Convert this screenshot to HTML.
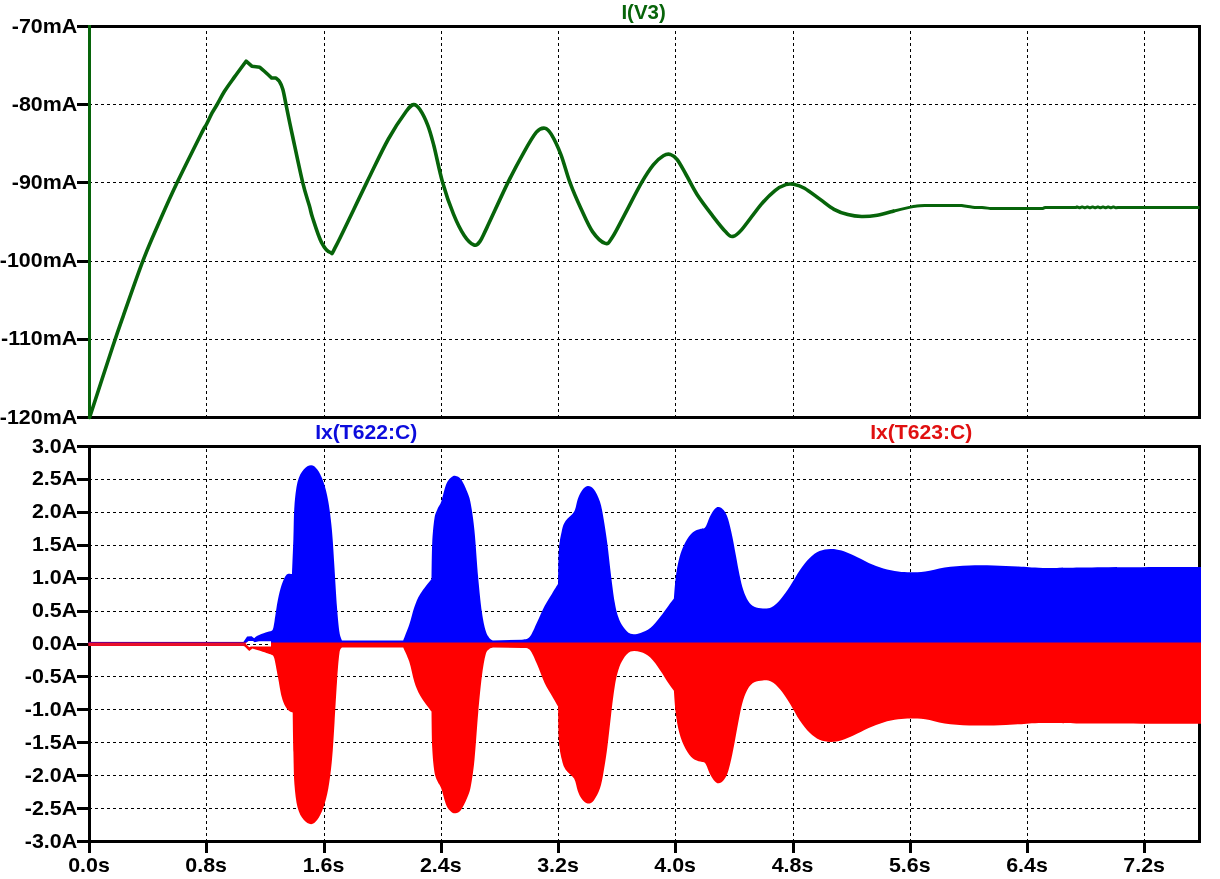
<!DOCTYPE html>
<html lang="en"><head><meta charset="utf-8"><title>LTspice waveform</title>
<style>html,body{margin:0;padding:0;background:#fff}body{width:1220px;height:879px;overflow:hidden}svg{display:block}
text{font-family:"Liberation Sans",Arial,sans-serif;font-weight:bold;font-size:21px}
.g{stroke:#000;stroke-width:1;stroke-dasharray:3 3;shape-rendering:crispEdges;fill:none}
.f{stroke:#000;stroke-width:3;shape-rendering:crispEdges;fill:none}
.yl{text-anchor:end}.xl{text-anchor:middle}
</style></head><body>
<svg width="1220" height="879" viewBox="0 0 1220 879">
<rect width="1220" height="879" fill="#fff"/>
<path class="g" d="M206.5,28.0V416.0" stroke-dashoffset="3"/>
<path class="g" d="M324.5,28.0V416.0" stroke-dashoffset="3"/>
<path class="g" d="M441.5,28.0V416.0" stroke-dashoffset="3"/>
<path class="g" d="M558.5,28.0V416.0" stroke-dashoffset="3"/>
<path class="g" d="M675.5,28.0V416.0" stroke-dashoffset="3"/>
<path class="g" d="M793.5,28.0V416.0" stroke-dashoffset="3"/>
<path class="g" d="M910.5,28.0V416.0" stroke-dashoffset="3"/>
<path class="g" d="M1027.5,28.0V416.0" stroke-dashoffset="3"/>
<path class="g" d="M1144.5,28.0V416.0" stroke-dashoffset="3"/>
<path class="g" d="M91.0,104.5H1198.0" stroke-dashoffset="2"/>
<path class="g" d="M91.0,182.5H1198.0" stroke-dashoffset="2"/>
<path class="g" d="M91.0,261.5H1198.0" stroke-dashoffset="2"/>
<path class="g" d="M91.0,339.5H1198.0" stroke-dashoffset="2"/>
<path class="f" d="M77,26.5H1199.5V417.5H77M89.5,25.0V419.0"/>
<path class="f" d="M77,104.7H89.5"/>
<path class="f" d="M77,182.9H89.5"/>
<path class="f" d="M77,261.1H89.5"/>
<path class="f" d="M77,339.3H89.5"/>
<path class="g" d="M206.5,448.0V840.0" stroke-dashoffset="5"/>
<path class="g" d="M324.5,448.0V840.0" stroke-dashoffset="5"/>
<path class="g" d="M441.5,448.0V840.0" stroke-dashoffset="5"/>
<path class="g" d="M558.5,448.0V840.0" stroke-dashoffset="5"/>
<path class="g" d="M675.5,448.0V840.0" stroke-dashoffset="5"/>
<path class="g" d="M793.5,448.0V840.0" stroke-dashoffset="5"/>
<path class="g" d="M910.5,448.0V840.0" stroke-dashoffset="5"/>
<path class="g" d="M1027.5,448.0V840.0" stroke-dashoffset="5"/>
<path class="g" d="M1144.5,448.0V840.0" stroke-dashoffset="5"/>
<path class="g" d="M91.0,479.5H1198.0" stroke-dashoffset="2"/>
<path class="g" d="M91.0,512.5H1198.0" stroke-dashoffset="2"/>
<path class="g" d="M91.0,545.5H1198.0" stroke-dashoffset="2"/>
<path class="g" d="M91.0,578.5H1198.0" stroke-dashoffset="2"/>
<path class="g" d="M91.0,611.5H1198.0" stroke-dashoffset="2"/>
<path class="g" d="M91.0,644.5H1198.0" stroke-dashoffset="2"/>
<path class="g" d="M91.0,676.5H1198.0" stroke-dashoffset="2"/>
<path class="g" d="M91.0,709.5H1198.0" stroke-dashoffset="2"/>
<path class="g" d="M91.0,742.5H1198.0" stroke-dashoffset="2"/>
<path class="g" d="M91.0,775.5H1198.0" stroke-dashoffset="2"/>
<path class="g" d="M91.0,808.5H1198.0" stroke-dashoffset="2"/>
<path class="f" d="M77,446.5H1199.5V841.5H77M89.5,445.0V843.0"/>
<path class="f" d="M77,479.4H89.5"/>
<path class="f" d="M77,512.3H89.5"/>
<path class="f" d="M77,545.2H89.5"/>
<path class="f" d="M77,578.2H89.5"/>
<path class="f" d="M77,611.1H89.5"/>
<path class="f" d="M77,644.0H89.5"/>
<path class="f" d="M77,676.9H89.5"/>
<path class="f" d="M77,709.8H89.5"/>
<path class="f" d="M77,742.8H89.5"/>
<path class="f" d="M77,775.7H89.5"/>
<path class="f" d="M77,808.6H89.5"/>
<path class="f" d="M89.5,841.5V853"/>
<path class="f" d="M206.8,841.5V853"/>
<path class="f" d="M324.0,841.5V853"/>
<path class="f" d="M441.2,841.5V853"/>
<path class="f" d="M558.5,841.5V853"/>
<path class="f" d="M675.8,841.5V853"/>
<path class="f" d="M793.0,841.5V853"/>
<path class="f" d="M910.2,841.5V853"/>
<path class="f" d="M1027.5,841.5V853"/>
<path class="f" d="M1144.8,841.5V853"/>
<path d="M89.5,25V419" fill="none" stroke="#07640a" stroke-width="3" shape-rendering="crispEdges"/>
<path d="M89.6,417.5C93.4,405.8 106.9,364.2 112.5,347.3C118.1,330.4 118.2,330.2 123.3,315.8C128.4,301.4 137.1,276.1 143.0,260.7C148.9,245.3 153.0,236.4 158.7,223.3C164.4,210.2 170.3,196.8 177.4,182.0C184.5,167.2 196.2,143.8 201.0,134.2C205.8,124.6 204.5,128.1 206.4,124.5C208.3,120.9 210.4,116.0 212.2,112.7C214.0,109.4 215.0,108.1 217.1,104.5C219.2,100.9 221.7,95.8 224.5,91.3C227.3,86.8 230.6,82.4 234.2,77.4C237.8,72.4 244.1,63.9 246.1,61.2L251.8,66.2L259.8,67.3C260.5,67.9 262.1,69.2 264.1,71.0C266.1,72.8 270.4,76.8 271.6,78.0L275.9,78.0C276.5,78.6 278.5,79.8 279.6,81.7C280.8,83.6 281.7,85.4 282.8,89.2C283.9,93.0 284.5,97.2 286.0,104.5C287.5,111.8 289.1,120.0 291.9,133.0C294.7,145.9 299.7,170.1 302.6,182.2C305.5,194.3 307.6,199.7 309.3,205.6C311.0,211.5 310.6,211.7 312.6,217.8C314.6,223.9 318.5,236.6 321.5,242.4C324.5,248.2 327.9,252.0 330.4,252.5C332.9,253.0 330.2,257.1 336.3,245.4C342.4,233.7 358.1,200.1 366.8,182.4C375.5,164.7 381.8,150.8 388.4,139.0C394.9,127.2 401.9,117.2 406.1,111.5C410.3,105.8 411.3,104.9 413.6,104.6C415.9,104.3 417.5,106.0 419.9,109.5C422.3,113.0 425.5,119.4 427.8,125.3C430.1,131.2 431.2,135.5 433.7,145.0C436.2,154.5 439.3,170.9 442.6,182.4C445.9,193.9 449.8,205.1 453.4,213.9C457.0,222.8 460.8,230.3 464.2,235.5C467.6,240.7 471.4,244.0 474.0,245.0C476.6,246.0 477.9,244.3 480.0,241.4C482.1,238.5 482.2,237.4 486.9,227.6C491.6,217.8 501.9,194.9 508.0,182.4C514.1,169.9 518.9,161.2 523.6,152.8C528.3,144.4 532.9,136.3 536.4,132.2C539.9,128.1 542.4,127.9 544.9,128.2C547.4,128.5 548.5,129.7 551.2,134.1C553.9,138.5 557.9,146.8 561.0,154.8C564.1,162.9 566.6,173.5 569.9,182.4C573.2,191.3 576.9,199.8 580.7,208.0C584.5,216.2 588.4,225.7 592.5,231.6C596.6,237.5 602.0,242.4 605.3,243.4C608.6,244.4 609.1,242.1 612.2,237.5C615.3,232.9 619.1,225.0 624.0,215.8C628.9,206.6 636.8,190.9 641.7,182.4C646.6,173.9 649.9,169.0 653.5,164.6C657.1,160.2 660.6,157.5 663.4,155.8C666.2,154.1 668.0,153.8 670.3,154.4C672.6,155.1 674.6,156.3 677.2,159.7C679.8,163.0 682.7,168.8 686.0,174.5C689.3,180.2 692.5,187.3 696.9,194.2C701.3,201.1 707.7,209.4 712.6,215.8C717.5,222.2 723.0,229.2 726.4,232.6C729.8,236.0 730.5,236.8 733.0,236.4C735.5,236.0 736.8,235.2 741.5,229.9C746.2,224.6 755.6,210.9 761.2,204.3C766.8,197.8 770.9,193.9 775.0,190.6C779.1,187.3 782.7,185.6 785.8,184.6C788.9,183.6 790.6,183.7 793.7,184.3C796.8,184.9 800.1,185.7 804.5,188.2C808.9,190.7 815.3,195.9 820.2,199.4C825.1,202.9 829.4,206.8 834.0,209.3C838.6,211.8 843.2,213.4 847.8,214.6C852.4,215.8 856.7,216.4 861.6,216.5C866.5,216.6 872.0,216.1 877.3,215.2C882.5,214.3 890.5,211.9 893.1,211.2" fill="none" stroke="#07640a" stroke-width="3.6" stroke-linejoin="round" stroke-linecap="round"/>
<path d="M893.1,211.2C896.0,210.5 906.5,207.9 910.5,207.1C914.5,206.2 914.3,206.4 917.0,206.1C919.7,205.8 924.9,205.6 926.5,205.5L961.6,205.5C962.7,205.7 965.8,206.2 968.0,206.5C970.2,206.8 972.5,207.2 974.8,207.4C977.1,207.6 979.4,207.4 982.0,207.6C984.6,207.8 988.3,208.2 990.5,208.4C992.7,208.6 994.2,208.5 995.0,208.5L1043.0,208.5C1043.4,208.3 1044.3,207.8 1045.5,207.6C1046.7,207.4 1049.2,207.5 1050.0,207.5L1076.0,207.5L1077.0,206.9L1079.6,207.8L1082.2,206.9L1084.8,207.8L1087.4,206.9L1090.0,207.8L1092.6,206.9L1095.2,207.8L1097.8,206.9L1100.4,207.8L1103.0,206.9L1105.6,207.8L1108.2,206.9L1110.8,207.8L1113.4,206.9L1116.0,207.8L1118.0,207.5L1199.5,207.5" fill="none" stroke="#07640a" stroke-width="3" stroke-linejoin="round"/>
<path d="M88.5,642.0L243.4,642.0L247.1,636.6L251.6,636.2L254.1,638.3C254.6,637.9 255.5,636.8 257.4,635.8C259.3,634.8 263.3,633.3 265.6,632.5C267.9,631.7 270.4,631.2 271.3,630.9C271.6,630.6 272.4,630.6 273.0,628.9C273.6,627.2 273.8,625.6 274.6,620.7C275.4,615.9 276.7,605.8 277.9,599.8C279.1,593.8 280.2,589.2 281.6,585.0C283.0,580.8 284.8,576.5 286.5,574.7C288.2,572.9 291.1,574.1 292.0,574.0C292.2,568.1 293.0,549.7 293.4,538.4C293.8,527.1 293.7,515.8 294.4,506.4C295.1,497.0 296.1,487.9 297.6,481.8C299.2,475.7 301.4,472.2 303.7,469.5C305.9,466.8 308.8,465.3 311.1,465.3C313.4,465.3 315.2,466.8 317.3,469.5C319.4,472.2 321.6,476.5 323.4,481.8C325.2,487.1 326.9,493.3 328.3,501.5C329.7,509.7 331.0,519.9 332.0,531.0C333.0,542.1 333.7,555.2 334.5,567.9C335.3,580.6 336.2,596.6 337.0,607.2C337.8,617.9 338.6,626.3 339.4,631.8C340.2,637.3 341.5,639.0 341.9,640.4L403.2,640.4C404.2,637.7 407.4,629.9 409.3,624.4C411.2,618.9 412.5,612.3 414.3,607.2C416.1,602.1 417.5,598.4 420.4,593.7C423.3,589.0 429.6,581.4 431.5,578.9C431.6,573.0 431.7,553.3 432.2,543.3C432.7,533.3 433.5,524.5 434.4,518.7C435.3,513.0 436.5,511.7 437.6,508.8C438.8,505.9 439.9,505.6 441.3,501.5C442.7,497.4 444.6,488.3 446.2,484.3C447.8,480.3 449.5,478.8 451.1,477.4C452.7,476.0 454.0,475.6 455.6,475.9C457.2,476.2 459.1,476.7 461.0,479.3C462.9,481.9 465.5,487.5 467.1,491.6C468.7,495.7 469.6,497.3 470.8,503.9C472.0,510.5 473.3,518.7 474.5,531.0C475.7,543.3 477.0,564.2 478.2,577.7C479.4,591.2 480.7,603.3 481.9,612.1C483.1,620.9 484.4,626.3 485.6,630.6C486.8,634.9 488.1,636.3 489.3,637.9C490.5,639.5 492.3,640.0 492.9,640.4L522.4,639.7C523.6,639.2 527.3,639.7 529.8,636.7C532.3,633.8 534.7,627.1 537.2,622.0C539.7,616.9 542.1,610.7 544.6,606.0C547.1,601.3 549.8,597.4 552.0,593.7C554.2,590.0 557.1,585.4 558.1,583.8C558.2,578.3 558.2,559.4 558.8,550.6C559.4,541.8 560.7,535.9 561.8,531.0C562.9,526.1 563.5,524.3 565.5,521.1C567.5,517.9 572.1,515.5 574.1,511.8C576.1,508.1 576.5,502.6 577.8,499.0C579.1,495.4 580.4,492.6 582.0,490.4C583.6,488.2 585.6,486.2 587.6,486.0C589.6,485.8 591.8,486.6 593.8,489.2C595.8,491.8 598.3,496.6 599.9,501.5C601.5,506.4 602.4,511.7 603.6,518.7C604.8,525.7 606.1,533.9 607.3,543.3C608.5,552.7 609.8,565.4 611.0,575.2C612.2,585.0 613.5,595.3 614.7,602.3C615.9,609.3 616.9,612.9 618.3,617.0C619.7,621.1 621.2,624.1 623.3,626.9C625.3,629.7 627.7,632.8 630.6,633.8C633.5,634.8 637.2,634.0 640.5,633.0C643.8,632.0 647.0,630.8 650.3,628.1C653.6,625.4 657.1,620.7 660.1,617.0C663.1,613.3 666.0,609.1 668.3,606.0C670.6,602.9 673.0,599.8 673.9,598.6C674.2,595.1 674.8,584.5 675.7,577.7C676.6,570.9 677.7,564.0 679.3,558.0C680.9,552.0 683.2,546.3 685.5,542.0C687.8,537.7 690.4,534.4 692.9,532.2C695.4,530.0 698.2,529.8 700.2,529.0C702.2,528.2 703.6,529.4 705.2,527.3C706.9,525.2 708.5,519.3 710.1,516.2C711.7,513.1 713.6,510.3 715.0,508.8C716.4,507.3 717.3,506.9 718.7,507.1C720.1,507.3 722.1,508.2 723.6,510.1C725.1,512.0 726.6,514.4 728.0,518.7C729.4,523.0 730.9,529.8 732.2,535.9C733.5,542.0 734.7,549.0 735.9,555.6C737.1,562.2 738.4,569.5 739.6,575.2C740.8,580.9 741.9,585.7 743.3,590.0C744.7,594.3 746.4,598.2 748.2,601.0C750.0,603.8 751.8,605.5 754.3,606.7C756.8,607.9 760.0,608.3 762.9,608.4C765.8,608.5 768.6,608.6 771.5,607.2C774.4,605.8 777.1,603.3 780.2,599.8C783.3,596.3 786.7,591.2 790.0,586.3C793.3,581.4 796.5,575.0 799.8,570.3C803.1,565.6 806.4,561.2 809.7,558.0C813.0,554.8 816.0,552.6 819.5,551.1C823.0,549.6 826.9,549.0 830.6,548.9C834.3,548.8 837.7,549.5 841.6,550.6C845.5,551.7 849.4,553.6 853.9,555.6C858.4,557.6 863.8,560.8 868.7,562.9C873.6,565.0 878.5,567.0 883.4,568.4C888.3,569.8 893.7,570.9 898.2,571.5C902.7,572.1 906.0,572.3 910.5,572.3C915.0,572.3 919.5,572.3 925.2,571.5C930.9,570.7 937.3,568.4 944.6,567.4C951.9,566.4 961.0,565.7 969.2,565.4C977.4,565.1 985.6,565.2 993.8,565.4C1002.0,565.6 1010.2,566.2 1018.4,566.6C1026.6,567.0 1030.7,567.8 1043.0,567.9C1055.3,568.0 1065.7,567.5 1092.0,567.4C1118.3,567.3 1182.8,567.1 1201.0,567.1L1201,644.4L243.4,644.4L243.4,642.4L88.5,642.4Z" fill="#0000ff"/>
<path d="M88.5,646.0L243.4,646.0L244.7,646.4L249.2,651.0L252.5,648.6C253.9,649.0 258.1,650.2 260.7,651.0C263.3,651.8 266.1,652.8 268.0,653.4C269.9,654.0 271.4,654.6 272.1,654.9C272.5,655.4 273.2,654.4 274.2,658.0C275.2,661.6 276.7,670.3 277.9,676.7C279.1,683.1 280.4,691.5 281.6,696.4C282.8,701.3 284.1,703.8 285.3,706.2C286.5,708.6 287.8,709.7 289.0,710.8C290.2,711.9 292.1,712.3 292.7,712.6C292.8,719.2 293.1,740.4 293.4,752.3C293.7,764.2 293.7,774.7 294.4,783.9C295.1,793.1 296.1,801.5 297.6,807.5C299.2,813.5 301.4,817.1 303.7,819.8C305.9,822.6 308.8,824.2 311.1,824.2C313.4,824.2 315.2,822.6 317.3,819.8C319.4,817.1 321.6,812.7 323.4,807.5C325.2,802.3 326.9,796.6 328.3,788.6C329.7,780.6 331.0,770.5 332.0,759.6C333.0,748.6 333.7,735.9 334.5,722.9C335.3,709.9 336.2,693.2 337.0,681.7C337.8,670.1 338.6,659.1 339.4,653.5C340.2,647.8 341.5,648.6 341.9,647.6L403.2,647.6C404.2,650.0 407.4,656.1 409.3,661.8C411.2,667.5 412.5,676.0 414.3,681.7C416.1,687.4 417.5,690.9 420.4,695.9C423.3,700.9 429.6,708.9 431.5,711.5C431.6,717.5 431.7,737.4 432.2,747.4C432.7,757.5 433.5,766.1 434.4,771.7C435.3,777.4 436.5,778.7 437.6,781.5C438.8,784.3 439.9,784.6 441.3,788.6C442.7,792.5 444.6,801.3 446.2,805.1C447.8,809.0 449.5,810.4 451.1,811.8C452.7,813.1 454.0,813.5 455.6,813.2C457.2,812.9 459.1,812.4 461.0,809.9C462.9,807.4 465.5,802.0 467.1,798.1C468.7,794.2 469.6,792.7 470.8,786.3C472.0,779.8 473.3,771.8 474.5,759.6C475.7,747.3 477.0,726.7 478.2,712.8C479.4,698.9 480.7,685.7 481.9,676.0C483.1,666.4 484.4,659.3 485.6,654.8C486.8,650.3 488.1,650.3 489.3,649.1C490.5,647.9 492.3,647.9 492.9,647.6L522.4,648.0C523.6,648.3 527.3,647.1 529.8,649.8C532.3,652.6 534.7,659.0 537.2,664.5C539.7,670.0 542.1,677.7 544.6,682.9C547.1,688.2 549.8,692.0 552.0,695.9C554.2,699.8 557.1,704.6 558.1,706.4C558.2,712.0 558.2,731.3 558.8,740.2C559.4,749.1 560.7,754.7 561.8,759.6C562.9,764.4 563.5,766.2 565.5,769.4C567.5,772.5 572.1,775.0 574.1,778.6C576.1,782.2 576.5,787.5 577.8,791.0C579.1,794.4 580.4,797.2 582.0,799.3C583.6,801.3 585.6,803.3 587.6,803.5C589.6,803.7 591.8,802.9 593.8,800.4C595.8,797.9 598.3,793.4 599.9,788.6C601.5,783.8 602.4,778.6 603.6,771.7C604.8,764.9 606.1,756.8 607.3,747.4C608.5,738.1 609.8,725.5 611.0,715.4C612.2,705.3 613.5,694.4 614.7,686.8C615.9,679.3 616.9,674.9 618.3,670.2C619.7,665.6 621.2,662.1 623.3,659.0C625.3,655.9 627.7,652.8 630.6,651.6C633.5,650.5 637.2,651.1 640.5,652.1C643.8,653.1 647.0,654.6 650.3,657.6C653.6,660.6 657.1,666.0 660.1,670.2C663.1,674.5 666.0,679.5 668.3,682.9C670.6,686.4 673.0,689.4 673.9,690.7C674.2,694.4 674.8,705.8 675.7,712.8C676.6,719.8 677.7,726.8 679.3,732.8C680.9,738.8 683.2,744.5 685.5,748.7C687.8,753.0 690.4,756.3 692.9,758.4C695.4,760.5 698.2,760.8 700.2,761.6C702.2,762.4 703.6,761.1 705.2,763.2C706.9,765.3 708.5,771.2 710.1,774.2C711.7,777.3 713.6,780.0 715.0,781.5C716.4,783.0 717.3,783.4 718.7,783.2C720.1,783.0 722.1,782.1 723.6,780.2C725.1,778.3 726.6,776.0 728.0,771.7C729.4,767.5 730.9,760.8 732.2,754.7C733.5,748.7 734.7,741.7 735.9,735.2C737.1,728.7 738.4,721.3 739.6,715.4C740.8,709.5 741.9,704.4 743.3,699.8C744.7,695.3 746.4,691.1 748.2,688.2C750.0,685.3 751.8,683.5 754.3,682.2C756.8,680.9 760.0,680.5 762.9,680.4C765.8,680.3 768.6,680.2 771.5,681.7C774.4,683.2 777.1,685.8 780.2,689.5C783.3,693.2 786.7,698.6 790.0,703.7C793.3,708.9 796.5,715.7 799.8,720.5C803.1,725.3 806.4,729.6 809.7,732.8C813.0,736.0 816.0,738.2 819.5,739.7C823.0,741.2 826.9,741.8 830.6,741.9C834.3,742.0 837.7,741.3 841.6,740.2C845.5,739.1 849.4,737.2 853.9,735.2C858.4,733.1 863.8,730.0 868.7,727.9C873.6,725.8 878.5,723.8 883.4,722.4C888.3,721.0 893.7,719.9 898.2,719.3C902.7,718.6 906.0,718.5 910.5,718.5C915.0,718.5 919.5,718.5 925.2,719.3C930.9,720.1 937.3,722.4 944.6,723.4C951.9,724.4 961.0,725.1 969.2,725.4C977.4,725.7 985.6,725.6 993.8,725.4C1002.0,725.2 1010.2,724.6 1018.4,724.2C1026.6,723.8 1030.7,723.0 1043.0,722.9C1055.3,722.8 1065.7,723.3 1092.0,723.4C1118.3,723.5 1182.8,723.6 1201.0,723.7L1201,642.4L88.5,642.4Z" fill="#ff0000"/>
<rect x="88.5" y="641.9" width="156" height="2" fill="#7a0080"/>
<rect x="88.5" y="643" width="156" height="2.8" fill="#e8102c"/>
<path d="M245.5,643.6L248.5,641H253L254.6,642.2L259,641.2H271V646.6H251L249.2,647.2Z" fill="#fff"/>
<path class="g" d="M247,644.5H271"/>
<text class="yl" transform="translate(77.2,32.5) scale(1.02,1)">-70mA</text>
<text class="yl" transform="translate(77.2,110.7) scale(1.02,1)">-80mA</text>
<text class="yl" transform="translate(77.2,188.9) scale(1.02,1)">-90mA</text>
<text class="yl" transform="translate(77.2,267.1) scale(1.02,1)">-100mA</text>
<text class="yl" transform="translate(77.2,345.3) scale(1.02,1)">-110mA</text>
<text class="yl" transform="translate(77.2,423.5) scale(1.02,1)">-120mA</text>
<text class="yl" transform="translate(77.2,452.5) scale(1.02,1)">3.0A</text>
<text class="yl" transform="translate(77.2,485.4) scale(1.02,1)">2.5A</text>
<text class="yl" transform="translate(77.2,518.3) scale(1.02,1)">2.0A</text>
<text class="yl" transform="translate(77.2,551.2) scale(1.02,1)">1.5A</text>
<text class="yl" transform="translate(77.2,584.2) scale(1.02,1)">1.0A</text>
<text class="yl" transform="translate(77.2,617.1) scale(1.02,1)">0.5A</text>
<text class="yl" transform="translate(77.2,650.0) scale(1.02,1)">0.0A</text>
<text class="yl" transform="translate(77.2,682.9) scale(1.02,1)">-0.5A</text>
<text class="yl" transform="translate(77.2,715.8) scale(1.02,1)">-1.0A</text>
<text class="yl" transform="translate(77.2,748.8) scale(1.02,1)">-1.5A</text>
<text class="yl" transform="translate(77.2,781.7) scale(1.02,1)">-2.0A</text>
<text class="yl" transform="translate(77.2,814.6) scale(1.02,1)">-2.5A</text>
<text class="yl" transform="translate(77.2,847.5) scale(1.02,1)">-3.0A</text>
<text class="xl" transform="translate(89.0,871.7) scale(1.02,1)">0.0s</text>
<text class="xl" transform="translate(206.2,871.7) scale(1.02,1)">0.8s</text>
<text class="xl" transform="translate(323.5,871.7) scale(1.02,1)">1.6s</text>
<text class="xl" transform="translate(440.8,871.7) scale(1.02,1)">2.4s</text>
<text class="xl" transform="translate(558.0,871.7) scale(1.02,1)">3.2s</text>
<text class="xl" transform="translate(675.2,871.7) scale(1.02,1)">4.0s</text>
<text class="xl" transform="translate(792.5,871.7) scale(1.02,1)">4.8s</text>
<text class="xl" transform="translate(909.8,871.7) scale(1.02,1)">5.6s</text>
<text class="xl" transform="translate(1027.0,871.7) scale(1.02,1)">6.4s</text>
<text class="xl" transform="translate(1144.2,871.7) scale(1.02,1)">7.2s</text>
<text class="xl" transform="translate(643.6,18.5) scale(0.975,1)" fill="#07640a">I(V3)</text>
<text class="xl" transform="translate(366.2,438.7) scale(1.005,1)" fill="#0c0cdc">Ix(T622:C)</text>
<text class="xl" transform="translate(921.2,438.7) scale(1.005,1)" fill="#e01010">Ix(T623:C)</text>
</svg></body></html>
